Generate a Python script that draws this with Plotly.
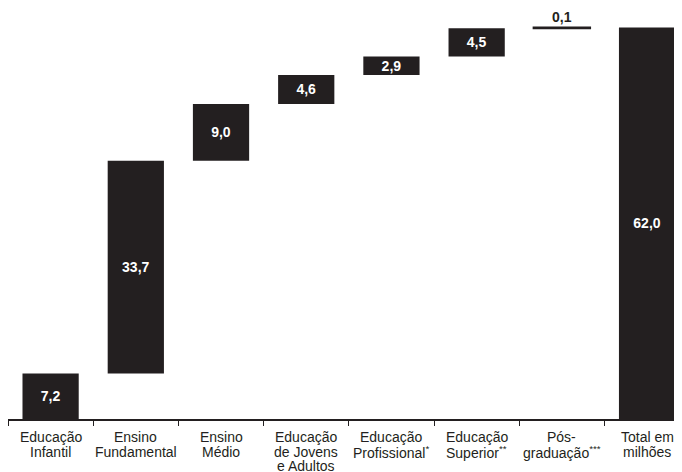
import plotly.graph_objects as go

categories = [
    "Educação Infantil",
    "Ensino Fundamental",
    "Ensino Médio",
    "Educação de Jovens e Adultos",
    "Educação Profissional",
    "Educação Superior",
    "Pós-graduação",
    "Total em milhões",
]
tick_lines = [
    ["Educação", "Infantil"],
    ["Ensino", "Fundamental"],
    ["Ensino", "Médio"],
    ["Educação", "de Jovens", "e Adultos"],
    ["Educação", "Profissional<sup>*</sup>"],
    ["Educação", "Superior<sup>**</sup>"],
    ["Pós-", "graduação<sup>***</sup>"],
    ["Total em", "milhões"],
]
steps = [7.2, 33.7, 9.0, 4.6, 2.9, 4.5, 0.1]
total = 62.0

# bases computed from cumulative sums
bases = []
acc = 0.0
for v in steps:
    bases.append(acc)
    acc += v
values = steps + [total]
bases = bases + [0.0]

labels = [f"<b>{v:.1f}</b>".replace(".", ",") for v in values]
positions = ["inside"] * 6 + ["outside", "inside"]
tcolors = ["white"] * 6 + ["#231f20", "white"]
line_w = [0] * 6 + [2.2, 0]

dark = "#231f20"
font_family = "Liberation Sans, Arial, sans-serif"

fig = go.Figure(
    go.Bar(
        x=categories,
        y=values,
        base=bases,
        width=0.66,
        marker=dict(color=dark, line=dict(color=dark, width=line_w)),
        text=labels,
        textposition=positions,
        insidetextanchor="middle",
        constraintext="none",
        textfont=dict(color=tcolors, size=14, family=font_family),
        cliponaxis=False,
    )
)

# category labels, one text per line for tight line spacing
for cat, lines in zip(categories, tick_lines):
    for i, line in enumerate(lines):
        fig.add_annotation(
            x=cat,
            y=0,
            xref="x",
            yref="paper",
            text=line,
            showarrow=False,
            xanchor="center",
            yanchor="middle",
            yshift=-(18 + i * 14.5),
            font=dict(size=14, color=dark, family=font_family),
        )

fig.update_layout(
    width=674,
    height=464,
    margin=dict(l=0, r=0, t=0, b=53),
    plot_bgcolor="white",
    paper_bgcolor="white",
    showlegend=False,
    separators=",.",
    font=dict(family=font_family, size=14, color=dark),
)
fig.update_xaxes(
    type="category",
    range=[-0.5, 7.41],
    automargin=False,
    showticklabels=False,
    showline=True,
    linecolor=dark,
    linewidth=1.5,
    ticks="outside",
    tickson="boundaries",
    ticklen=5,
    tickwidth=1.2,
    tickcolor=dark,
    showgrid=False,
)
fig.update_yaxes(
    range=[0, 65.1],
    visible=False,
    showgrid=False,
    zeroline=False,
    automargin=False,
)

fig.write_html("out.html")
